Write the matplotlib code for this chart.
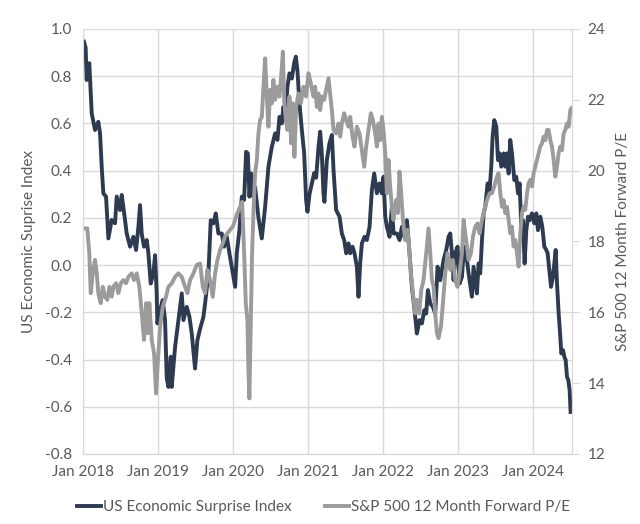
import matplotlib
matplotlib.use("Agg")
import matplotlib.pyplot as plt
import matplotlib.dates as mdates
import numpy as np
import pandas as pd

plt.rcParams['font.family'] = ['Lato', 'DejaVu Sans']

# US Economic Surprise Index (left axis), time as decimal years
esi_t = [2018.013, 2018.035, 2018.049, 2018.084, 2018.116, 2018.16, 2018.204, 2018.227, 2018.249, 2018.271, 2018.307,
         2018.338, 2018.382, 2018.427, 2018.449, 2018.493, 2018.516, 2018.56, 2018.582, 2018.627, 2018.671,
         2018.707, 2018.738, 2018.76, 2018.782, 2018.813, 2018.849, 2018.871, 2018.902, 2018.938, 2018.96,
         2018.982, 2018.991, 2019.027, 2019.062, 2019.093, 2019.116, 2019.138, 2019.169, 2019.182, 2019.227,
         2019.271, 2019.316, 2019.338, 2019.382, 2019.418, 2019.449, 2019.493, 2019.524, 2019.56, 2019.604,
         2019.627, 2019.671, 2019.702, 2019.738, 2019.769, 2019.804, 2019.849, 2019.88, 2019.916, 2019.951,
         2019.982, 2020.027, 2020.049, 2020.084, 2020.116, 2020.147, 2020.173, 2020.196, 2020.218, 2020.24,
         2020.271, 2020.293, 2020.338, 2020.382, 2020.427, 2020.471, 2020.516, 2020.56, 2020.591, 2020.618,
         2020.649, 2020.671, 2020.693, 2020.724, 2020.751, 2020.782, 2020.813, 2020.836, 2020.858, 2020.884,
         2020.916, 2020.947, 2020.973, 2020.991, 2021.018, 2021.049, 2021.08, 2021.107, 2021.138, 2021.16,
         2021.182, 2021.204, 2021.217, 2021.249, 2021.284, 2021.316, 2021.338, 2021.373, 2021.418, 2021.449,
         2021.48, 2021.507, 2021.538, 2021.56, 2021.591, 2021.618, 2021.649, 2021.671, 2021.693, 2021.716,
         2021.751, 2021.782, 2021.818, 2021.849, 2021.88, 2021.916, 2021.951, 2021.982, 2022.004, 2022.027,
         2022.049, 2022.084, 2022.116, 2022.138, 2022.182, 2022.218, 2022.249, 2022.28, 2022.316, 2022.351,
         2022.382, 2022.413, 2022.449, 2022.484, 2022.516, 2022.547, 2022.573, 2022.596, 2022.627, 2022.662,
         2022.693, 2022.724, 2022.76, 2022.804, 2022.84, 2022.871, 2022.893, 2022.916, 2022.938, 2022.96,
         2022.991, 2023.018, 2023.049, 2023.071, 2023.093, 2023.116, 2023.138, 2023.182, 2023.204, 2023.227,
         2023.249, 2023.271, 2023.293, 2023.316, 2023.338, 2023.36, 2023.391, 2023.418, 2023.44, 2023.458,
         2023.48, 2023.507, 2023.529, 2023.551, 2023.573, 2023.604, 2023.627, 2023.649, 2023.671, 2023.693,
         2023.716, 2023.747, 2023.773, 2023.796, 2023.818, 2023.84, 2023.862, 2023.884, 2023.907, 2023.929,
         2023.951, 2023.982, 2024.013, 2024.04, 2024.062, 2024.093, 2024.12, 2024.147, 2024.173, 2024.191,
         2024.218, 2024.236, 2024.262, 2024.28, 2024.298, 2024.316, 2024.338, 2024.36, 2024.373, 2024.396,
         2024.413, 2024.431, 2024.449, 2024.467, 2024.484, 2024.497]
esi_val = [0.946, 0.92, 0.784, 0.855, 0.643, 0.572, 0.607, 0.558, 0.417, 0.304, 0.29,
           0.113, 0.191, 0.177, 0.29, 0.233, 0.297, 0.191, 0.134, 0.078, 0.12,
           0.064, 0.162, 0.254, 0.134, 0.078, 0.106, 0.05, -0.078, -0.035, 0.042,
           -0.12, -0.247, -0.191, -0.148, -0.233, -0.48, -0.516, -0.388, -0.516, -0.346,
           -0.233, -0.12, -0.233, -0.177, -0.219, -0.29, -0.438, -0.318, -0.27, -0.22,
           -0.162, -0.035, 0.19, 0.177, 0.219, 0.134, 0.134, 0.078, 0.12, 0.05,
           -0.007, -0.092, 0.05, 0.148, 0.29, 0.276, 0.48, 0.473, 0.29, 0.388,
           0.29, 0.33, 0.2, 0.113, 0.247, 0.417, 0.501, 0.558, 0.53, 0.628,
           0.6, 0.671, 0.62, 0.755, 0.812, 0.79, 0.855, 0.883, 0.82, 0.685,
           0.572, 0.473, 0.275, 0.226, 0.3, 0.346, 0.39, 0.37, 0.501, 0.565,
           0.473, 0.304, 0.268, 0.445, 0.516, 0.551, 0.403, 0.233, 0.205, 0.134,
           0.106, 0.05, 0.092, 0.05, 0.078, 0.05, -0.007, -0.134, 0.007, 0.092,
           0.12, 0.106, 0.162, 0.318, 0.388, 0.304, 0.346, 0.304, 0.374, 0.205,
           0.162, 0.12, 0.247, 0.134, 0.134, 0.106, 0.162, 0.12, 0.19, 0.05,
           -0.092, -0.177, -0.29, -0.233, -0.247, -0.191, -0.205, -0.106, -0.162, -0.177,
           -0.205, -0.007, -0.064, 0.021, 0.064, 0.12, 0.134, 0.05, -0.064, 0.05,
           0.078, -0.078, -0.05, 0.05, 0.078, 0.021, -0.035, -0.134, -0.007, -0.064,
           -0.12, 0.007, -0.035, 0.106, 0.219, 0.247, 0.346, 0.318, 0.417, 0.544,
           0.614, 0.586, 0.445, 0.473, 0.417, 0.473, 0.417, 0.473, 0.388, 0.53,
           0.473, 0.36, 0.374, 0.304, 0.346, 0.162, 0.19, 0.007, 0.148, 0.205,
           0.19, 0.219, 0.177, 0.219, 0.148, 0.205, 0.162, 0.078, 0.064, 0.05,
           -0.035, -0.092, -0.05, 0.007, 0.064, -0.078, -0.205, -0.304, -0.374, -0.36,
           -0.388, -0.402, -0.473, -0.487, -0.53, -0.622]

# S&P 500 12 Month Forward P/E (right axis)
pe_t = [2018.013, 2018.057, 2018.084, 2018.103, 2018.129, 2018.16, 2018.183, 2018.204, 2018.236, 2018.263,
        2018.293, 2018.324, 2018.351, 2018.383, 2018.404, 2018.44, 2018.471, 2018.503, 2018.537, 2018.573,
        2018.604, 2018.649, 2018.68, 2018.716, 2018.751, 2018.783, 2018.813, 2018.84, 2018.863, 2018.884,
        2018.916, 2018.947, 2018.973, 2018.996, 2019.027, 2019.063, 2019.107, 2019.137, 2019.183, 2019.227,
        2019.271, 2019.316, 2019.36, 2019.391, 2019.427, 2019.471, 2019.516, 2019.56, 2019.596, 2019.627,
        2019.657, 2019.693, 2019.729, 2019.76, 2019.791, 2019.827, 2019.863, 2019.893, 2019.924, 2019.96,
        2019.996, 2020.027, 2020.057, 2020.093, 2020.12, 2020.147, 2020.169, 2020.191, 2020.204, 2020.217,
        2020.236, 2020.253, 2020.271, 2020.293, 2020.316, 2020.337, 2020.36, 2020.383, 2020.404, 2020.427,
        2020.449, 2020.471, 2020.493, 2020.516, 2020.537, 2020.56, 2020.591, 2020.617, 2020.64, 2020.663,
        2020.68, 2020.703, 2020.724, 2020.751, 2020.773, 2020.796, 2020.817, 2020.84, 2020.871, 2020.903,
        2020.937, 2020.973, 2021.004, 2021.036, 2021.071, 2021.093, 2021.116, 2021.137, 2021.16, 2021.183,
        2021.213, 2021.24, 2021.271, 2021.293, 2021.316, 2021.337, 2021.373, 2021.404, 2021.427, 2021.449,
        2021.48, 2021.507, 2021.537, 2021.56, 2021.591, 2021.617, 2021.649, 2021.684, 2021.716, 2021.747,
        2021.773, 2021.804, 2021.836, 2021.863, 2021.893, 2021.916, 2021.937, 2021.96, 2021.983, 2022.004,
        2022.027, 2022.049, 2022.071, 2022.093, 2022.116, 2022.137, 2022.173, 2022.196, 2022.217, 2022.24,
        2022.263, 2022.293, 2022.324, 2022.351, 2022.369, 2022.396, 2022.427, 2022.449, 2022.48, 2022.507,
        2022.537, 2022.573, 2022.604, 2022.627, 2022.649, 2022.671, 2022.693, 2022.716, 2022.737, 2022.769,
        2022.796, 2022.827, 2022.857, 2022.893, 2022.929, 2022.96, 2022.991, 2023.017, 2023.049, 2023.071,
        2023.093, 2023.116, 2023.137, 2023.169, 2023.196, 2023.227, 2023.257, 2023.284, 2023.316, 2023.347,
        2023.383, 2023.417, 2023.449, 2023.48, 2023.516, 2023.537, 2023.56, 2023.583, 2023.604, 2023.627,
        2023.649, 2023.671, 2023.693, 2023.716, 2023.737, 2023.76, 2023.783, 2023.804, 2023.827, 2023.849,
        2023.871, 2023.893, 2023.916, 2023.937, 2023.96, 2023.983, 2024.004, 2024.027, 2024.049, 2024.071,
        2024.093, 2024.116, 2024.137, 2024.16, 2024.183, 2024.204, 2024.227, 2024.249, 2024.271, 2024.293,
        2024.316, 2024.337, 2024.36, 2024.383, 2024.404, 2024.427, 2024.449, 2024.471, 2024.493, 2024.507]
pe_val = [18.37, 18.37, 17.67, 16.54, 17.1, 17.48, 17.1, 16.54, 16.26, 16.72,
          16.44, 16.35, 16.72, 16.44, 16.72, 16.82, 16.54, 16.82, 16.91, 16.82,
          17.0, 17.1, 16.91, 17.1, 16.72, 15.97, 15.22, 16.26, 15.41, 16.26,
          15.22, 14.84, 13.71, 14.56, 15.59, 16.16, 16.44, 16.72, 16.82, 17.0,
          17.1, 17.0, 16.72, 16.54, 16.91, 17.1, 17.34, 17.38, 16.72, 16.54,
          17.2, 16.91, 16.44, 17.1, 17.48, 17.76, 17.95, 18.14, 18.23, 18.33,
          18.42, 18.61, 18.8, 18.98, 19.12, 17.67, 16.26, 15.78, 14.37, 13.57,
          15.78, 17.67, 18.8, 19.93, 20.3, 21.05, 21.43, 21.52, 22.37, 23.17,
          22.09, 21.24, 22.28, 21.9, 22.56, 22.0, 22.37, 22.09, 22.65, 23.36,
          22.0, 21.43, 21.15, 22.09, 20.77, 21.9, 20.39, 21.8, 22.18, 21.9,
          22.37, 22.09, 22.75, 22.46, 22.09, 22.37, 21.8, 22.18, 21.71, 22.09,
          22.0, 22.28, 22.61, 22.18, 21.71, 21.15, 21.05, 21.33, 20.96, 21.33,
          21.62, 21.43, 21.24, 21.52, 20.96, 20.68, 21.24, 21.05, 20.58, 20.11,
          20.68, 21.15, 21.62, 21.43, 21.05, 20.68, 21.33, 20.86, 21.52, 21.15,
          20.49, 19.36, 20.3, 19.55, 18.98, 18.61, 19.17, 18.8, 19.97, 19.36,
          18.61, 18.04, 18.33, 17.67, 17.1, 16.54, 15.97, 16.35, 15.97, 16.63,
          16.91, 17.67, 18.37, 17.67, 16.91, 16.72, 15.97, 15.41, 15.27, 15.59,
          16.26, 17.1, 17.67, 17.2, 17.48, 16.91, 16.72, 17.1, 17.67, 18.61,
          18.23, 17.86, 17.48, 17.67, 18.14, 18.42, 18.51, 18.23, 18.61, 18.89,
          19.17, 19.36, 19.36, 19.55, 19.83, 19.93, 19.36, 18.98, 19.17, 18.8,
          18.98, 18.61, 18.23, 18.42, 17.86, 18.04, 17.67, 17.29, 18.23, 18.8,
          18.98, 18.89, 19.36, 19.64, 19.74, 19.55, 19.93, 20.11, 20.3, 20.49,
          20.68, 20.77, 20.96, 20.86, 21.15, 21.15, 20.86, 20.68, 20.3, 19.83,
          20.11, 20.49, 20.68, 20.58, 21.05, 21.15, 21.33, 21.24, 21.71, 21.76]

left_ticks = [-0.8, -0.6, -0.4, -0.2, 0.0, 0.2, 0.4, 0.6, 0.8, 1.0]
right_ticks = [12, 14, 16, 18, 20, 22, 24]


def to_dates(t):
    t = np.asarray(t)
    return pd.Timestamp("2018-01-01") + pd.to_timedelta((t - 2018) * 365.25, unit="D")


dark = '#2D3A50'
grey = '#9B9B9B'
text_c = '#595959'
grid_c = '#D9D9D9'

fig = plt.figure(figsize=(6.4, 5.24), dpi=100)
ax = fig.add_axes([0.1297, 0.1336, 0.7641, 0.8111])
ax2 = ax.twinx()

l1, = ax.plot(to_dates(esi_t), esi_val, color=dark, lw=2.8, label='US Economic Surprise Index')
l2, = ax2.plot(to_dates(pe_t), pe_val, color=grey, lw=2.8, label='S&P 500 12 Month Forward P/E')

ax.set_xlim(pd.Timestamp("2018-01-01"), pd.Timestamp("2024-07-08"))
ax.set_ylim(-0.8, 1.0)
ax.set_yticks(left_ticks)
ax.set_yticklabels([f'{v:.1f}' for v in left_ticks])
ax2.set_ylim(12, 24)
ax2.set_yticks(right_ticks)

ax.xaxis.set_major_locator(mdates.YearLocator())
ax.xaxis.set_major_formatter(mdates.DateFormatter('%b %Y'))

ax.grid(True, color=grid_c, lw=1)
ax.set_axisbelow(True)
for a in (ax, ax2):
    for s in a.spines.values():
        s.set_color(grid_c)
    a.spines['top'].set_visible(False)
ax.spines['left'].set_visible(False)

ax.tick_params(axis='y', length=0, labelsize=11, colors=text_c, pad=8)
ax.tick_params(axis='x', length=0, labelsize=11, colors=text_c, pad=8)
ax2.tick_params(axis='y', length=5, color=grid_c, labelsize=11, labelcolor=text_c, pad=6)

ax.set_ylabel('US Economic Suprise Index', color=text_c, fontsize=11, labelpad=6)
ax2.set_ylabel('S&P 500 12 Month Forward P/E', color=text_c, fontsize=11, labelpad=8)

fig.legend(handles=[l1, l2], loc='center', bbox_to_anchor=(0.505, 0.032), ncol=2, frameon=False,
           fontsize=11, labelcolor=text_c, handlelength=1.6, handletextpad=0.1, columnspacing=2.2)

fig.savefig('out.png', dpi=100)
